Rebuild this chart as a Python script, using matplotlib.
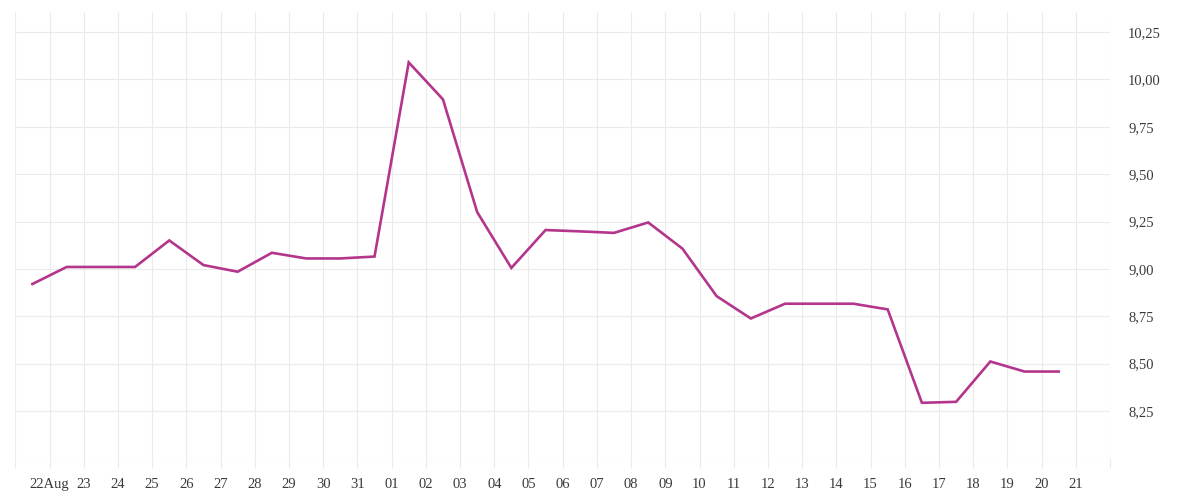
import datetime as dt

import matplotlib
matplotlib.use("Agg")
import matplotlib.pyplot as plt
import matplotlib.dates as mdates
from matplotlib.ticker import FixedLocator, FuncFormatter

# daily values, 22 Aug .. 21 Sep (each drawn half a day before its date tick)
start = dt.datetime(2023, 8, 22)
values = [8.92, 9.01, 9.01, 9.01, 9.15, 9.02, 8.985, 9.085, 9.055, 9.055,
          9.065, 10.09, 9.895, 9.30, 9.005, 9.205, 9.198, 9.19, 9.245, 9.107,
          8.856, 8.738, 8.816, 8.816, 8.816, 8.786, 8.293, 8.298, 8.511, 8.458,
          8.458]
dates = [start + dt.timedelta(days=i) for i in range(len(values))]
y_ticks = [8.0, 8.25, 8.5, 8.75, 9.0, 9.25, 9.5, 9.75, 10.0, 10.25]

LINE = "#B3358C"
GRID = "#EBEBEB"
TEXT = "#3a3a3a"

plt.rcParams["font.family"] = ["Liberation Serif", "DejaVu Serif"]

fig = plt.figure(figsize=(12, 5), dpi=100)
ax = fig.add_axes([0.01275, 0.0834, 0.9123, 0.8926])

xs = [d - dt.timedelta(hours=12) for d in dates]
ax.plot(xs, values, color=LINE, lw=1.9, solid_joinstyle="miter", zorder=3)

# x: a gridline per day, one extra day on each side without a label
tick_days = [start + dt.timedelta(days=i) for i in range(-1, len(values) + 1)]
ax.set_xlim(tick_days[0], tick_days[-1])
ax.xaxis.set_major_locator(FixedLocator(mdates.date2num(tick_days)))


def xfmt(v, pos):
    d = mdates.num2date(v).replace(tzinfo=None)
    if d < start or d > dates[-1]:
        return ""
    if d == start:
        return d.strftime("%d") + "Aug"
    return d.strftime("%d")


ax.xaxis.set_major_formatter(FuncFormatter(xfmt))

ax.set_ylim(8.0, 10.356)
ax.yaxis.set_major_locator(FixedLocator(y_ticks))
ax.yaxis.set_major_formatter(
    FuncFormatter(lambda v, p: "" if v < 8.1 else f"{v:.2f}".replace(".", ",")))
ax.yaxis.tick_right()

ax.grid(True, color=GRID, lw=0.8, zorder=0)
for s in ax.spines.values():
    s.set_visible(False)

ax.tick_params(axis="x", length=7.5, width=0.8, color=GRID, pad=6.5,
               labelsize=10.5, labelcolor=TEXT)
ax.tick_params(axis="y", length=0, pad=13, labelsize=10.5, labelcolor=TEXT)
for lab in ax.get_yticklabels():
    lab.set_horizontalalignment("left")

fig.savefig("out.png", dpi=100)
